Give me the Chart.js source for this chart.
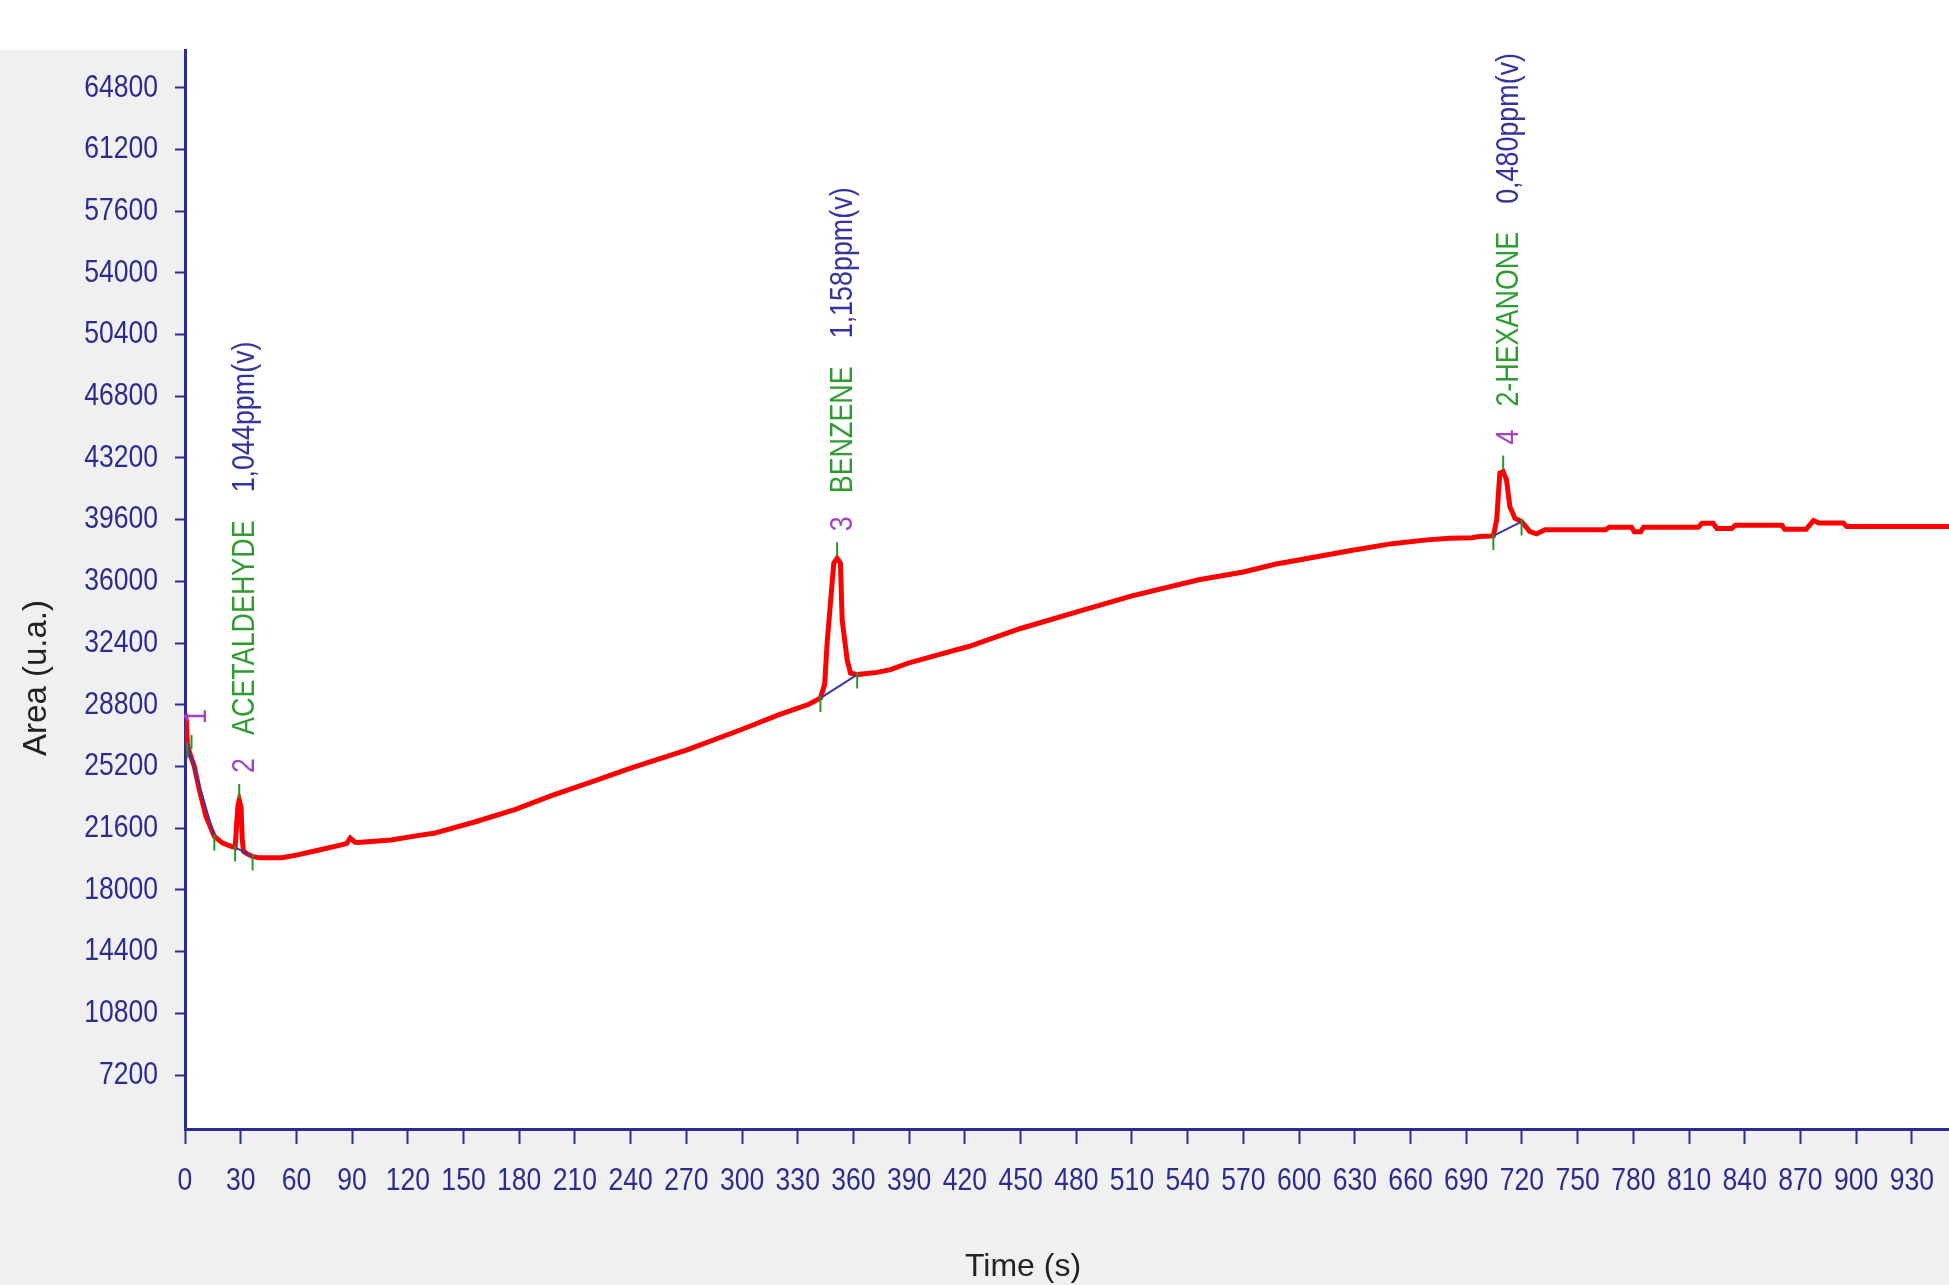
<!DOCTYPE html>
<html>
<head>
<meta charset="utf-8">
<title>Chromatogram</title>
<script src="https://cdn.jsdelivr.net/npm/chart.js@4.4.1/dist/chart.umd.min.js"></script>
<style>
  html, body { margin: 0; padding: 0; background: #ffffff; }
  #wrap { width: 1949px; height: 1285px; }
</style>
</head>
<body>
<div id="wrap"><canvas id="chart" width="1949" height="1285"></canvas></div>
<script>
// Detector signal: retention time (s) and area response (u.a.)
const timeS = [
  0, 0.7, 1.3, 2.5, 5, 7.7, 11.3, 15.8, 20.3, 24.8,
  27, 27.8, 28.5, 29.2, 30.2, 30.8, 31.5, 33.5, 36.4, 40,
  52, 60, 71, 82, 87, 89, 91.5, 93, 111, 126,
  134, 156, 178, 197, 224, 240, 270, 299, 320, 336,
  342.2, 344.5, 345.8, 347.6, 349.4, 351.2, 353, 353.9, 356.6, 358.4,
  362, 372.7, 380, 390, 405, 422, 450, 484, 510, 546,
  570, 587, 605, 628, 650, 669, 681, 693, 697, 704.6,
  706.4, 708.1, 709.9, 711.7, 713.5, 716.2, 719.8, 724.3, 727.9, 732.4,
  765, 767, 779, 780.5, 784, 785.5, 815, 817, 823, 825,
  833, 835, 860, 861.5, 873, 877, 880, 893, 895, 950
];
const areaUA = [
  28300, 27900, 26500, 26000, 25200, 23840, 22290, 21120, 20730, 20540,
  20480, 21800, 22900, 23250, 22800, 21000, 20250, 20100, 19950, 19870,
  19880, 20030, 20300, 20570, 20700, 21020, 20780, 20760, 20910, 21180,
  21300, 21960, 22700, 23480, 24490, 25100, 26150, 27330, 28220, 28830,
  29190, 30000, 32400, 34730, 37060, 37350, 37060, 33760, 31420, 30650,
  30560, 30690, 30850, 31250, 31700, 32200, 33250, 34340, 35150, 36090,
  36550, 37000, 37350, 37800, 38200, 38420, 38520, 38540, 38620, 38650,
  39590, 42310, 42405, 41920, 40365, 39680, 39490, 38900, 38770, 39005,
  39005, 39160, 39160, 38900, 38900, 39160, 39160, 39390, 39390, 39090,
  39090, 39270, 39270, 39040, 39040, 39550, 39400, 39400, 39200, 39200
];

// Integrated peaks
const peakNum   = ['1', '2', '3', '4'];
const peakName  = ['', 'ACETALDEHYDE', 'BENZENE', '2-HEXANONE'];
const peakConc  = ['', '1,044ppm(v)', '1,158ppm(v)', '0,480ppm(v)'];
const peakStartT = [1.3, 27, 342.2, 704.6];
const peakStartA = [26500, 20480, 29190, 38650];
const peakApexT  = [3.5, 29.2, 351.2, 709.9];
const peakApexA  = [26100, 23250, 37350, 42405];
const peakEndT   = [15.8, 36.4, 362, 719.8];
const peakEndA   = [21120, 19950, 30560, 39490];

// Axis ticks
const xTicks = [0, 30, 60, 90, 120, 150, 180, 210, 240, 270, 300, 330, 360, 390, 420,
                450, 480, 510, 540, 570, 600, 630, 660, 690, 720, 750, 780, 810, 840, 870, 900, 930];
const yTicks = [7200, 10800, 14400, 18000, 21600, 25200, 28800, 32400, 36000,
                39600, 43200, 46800, 50400, 54000, 57600, 61200, 64800];

const NAVY = '#2c2c90';
const FONT = "'Liberation Sans', Arial, sans-serif";
const CONDENSE = 0.84;   // horizontal squeeze for the instrument's narrow lettering

const panelBackground = {
  id: 'panelBackground',
  beforeDraw(chart) {
    const { ctx, chartArea: a, width, height } = chart;
    ctx.save();
    ctx.fillStyle = '#ffffff';
    ctx.fillRect(0, 0, width, height);
    ctx.fillStyle = '#f0f0f0';
    ctx.fillRect(0, a.top, a.left, height - a.top);
    ctx.fillRect(0, a.bottom, width, height - a.bottom);
    ctx.restore();
  }
};

// Condensed tick labels, placed from the scales' own ticks
const narrowTickLabels = {
  id: 'narrowTickLabels',
  afterDraw(chart) {
    const { ctx, chartArea: a, scales: { x, y } } = chart;
    ctx.save();
    ctx.fillStyle = NAVY;
    ctx.font = '32px ' + FONT;
    ctx.textBaseline = 'middle';
    ctx.textAlign = 'center';
    for (const t of x.ticks) {
      ctx.save();
      ctx.translate(x.getPixelForValue(t.value), a.bottom + 52);
      ctx.scale(0.83, 1);
      ctx.fillText(String(t.value), 0, 0);
      ctx.restore();
    }
    ctx.textAlign = 'right';
    for (const t of y.ticks) {
      ctx.save();
      ctx.translate(a.left - 27, y.getPixelForValue(t.value));
      ctx.scale(0.83, 1);
      ctx.fillText(String(t.value), 0, 0);
      ctx.restore();
    }
    ctx.restore();
  }
};

const axisTitles = {
  id: 'axisTitles',
  afterDraw(chart) {
    const { ctx } = chart;
    ctx.save();
    ctx.fillStyle = '#222222';
    ctx.textAlign = 'center';
    ctx.textBaseline = 'middle';
    ctx.font = '33px ' + FONT;
    ctx.translate(37, 678);
    ctx.rotate(-Math.PI / 2);
    ctx.fillText('Area (u.a.)', 0, 0);
    ctx.restore();
    ctx.save();
    ctx.fillStyle = '#222222';
    ctx.textAlign = 'center';
    ctx.textBaseline = 'middle';
    ctx.font = '32px ' + FONT;
    ctx.fillText('Time (s)', 1023, 1267);
    ctx.restore();
  }
};

const peakMarks = {
  id: 'peakMarks',
  afterDatasetsDraw(chart) {
    const { ctx, scales: { x, y } } = chart;
    ctx.save();
    // start / end / apex markers
    ctx.strokeStyle = '#2a962a';
    ctx.lineWidth = 2;
    for (let i = 0; i < peakNum.length; i++) {
      const sx = x.getPixelForValue(peakStartT[i]), sy = y.getPixelForValue(peakStartA[i]);
      const ex = x.getPixelForValue(peakEndT[i]), ey = y.getPixelForValue(peakEndA[i]);
      const px = x.getPixelForValue(peakApexT[i]), py = y.getPixelForValue(peakApexA[i]);
      ctx.beginPath();
      ctx.moveTo(sx, sy - 2); ctx.lineTo(sx, sy + 14);
      ctx.moveTo(ex, ey - 2); ctx.lineTo(ex, ey + 14);
      ctx.moveTo(px, py - 2); ctx.lineTo(px, py - 16);
      ctx.stroke();
    }
    // rotated peak labels: number, compound, concentration
    ctx.font = '32px ' + FONT;
    ctx.textAlign = 'left';
    ctx.textBaseline = 'middle';
    for (let i = 0; i < peakNum.length; i++) {
      const ax = x.getPixelForValue(peakApexT[i]) + 6;
      const ay = y.getPixelForValue(peakApexA[i]) - 27;
      ctx.save();
      ctx.translate(ax, ay);
      ctx.rotate(-Math.PI / 2);
      ctx.scale(CONDENSE, 1);
      let pos = 0;
      const parts = [[peakNum[i], '#a444c4', 23], [peakName[i], '#2f9c2f', 28], [peakConc[i], '#34349e', 0]];
      for (const [txt, col, gap] of parts) {
        if (!txt) continue;
        ctx.fillStyle = col;
        ctx.fillText(txt, pos, 0);
        pos += ctx.measureText(txt).width + gap / CONDENSE;
      }
      ctx.restore();
    }
    ctx.restore();
  }
};

const signal = timeS.map((t, i) => ({ x: t, y: areaUA[i] }));
const baselines = peakNum.map((n, i) => ({
  data: [{ x: peakStartT[i], y: peakStartA[i] }, { x: peakEndT[i], y: peakEndA[i] }],
  borderColor: '#3a3aa6',
  borderWidth: 2,
  pointRadius: 0,
  order: 1
}));

new Chart(document.getElementById('chart'), {
  type: 'line',
  data: {
    datasets: [
      {
        data: signal,
        borderColor: '#ff0000',
        borderWidth: 5,
        pointRadius: 0,
        tension: 0,
        fill: false,
        order: 2
      },
      ...baselines
    ]
  },
  options: {
    responsive: false,
    animation: false,
    devicePixelRatio: 1,
    layout: { padding: { top: 50, right: 0, left: 0, bottom: 0 } },
    plugins: { legend: { display: false }, tooltip: { enabled: false } },
    scales: {
      x: {
        type: 'linear',
        min: 0,
        max: 950,
        afterBuildTicks(s) { s.ticks = xTicks.map(v => ({ value: v })); },
        afterFit(s) { s.height = 156; },
        border: { display: true, color: NAVY, width: 3 },
        grid: { display: true, drawOnChartArea: false, drawTicks: true, tickLength: 15, tickWidth: 2, tickColor: NAVY },
        ticks: { display: false, autoSkip: false }
      },
      y: {
        type: 'linear',
        min: 4050,
        max: 67000,
        afterBuildTicks(s) { s.ticks = yTicks.map(v => ({ value: v })); },
        afterFit(s) { s.width = 185; },
        border: { display: true, color: NAVY, width: 3 },
        grid: { display: true, drawOnChartArea: false, drawTicks: true, tickLength: 10, tickWidth: 2, tickColor: NAVY },
        ticks: { display: false, autoSkip: false }
      }
    }
  },
  plugins: [panelBackground, narrowTickLabels, axisTitles, peakMarks]
});
</script>
</body>
</html>
